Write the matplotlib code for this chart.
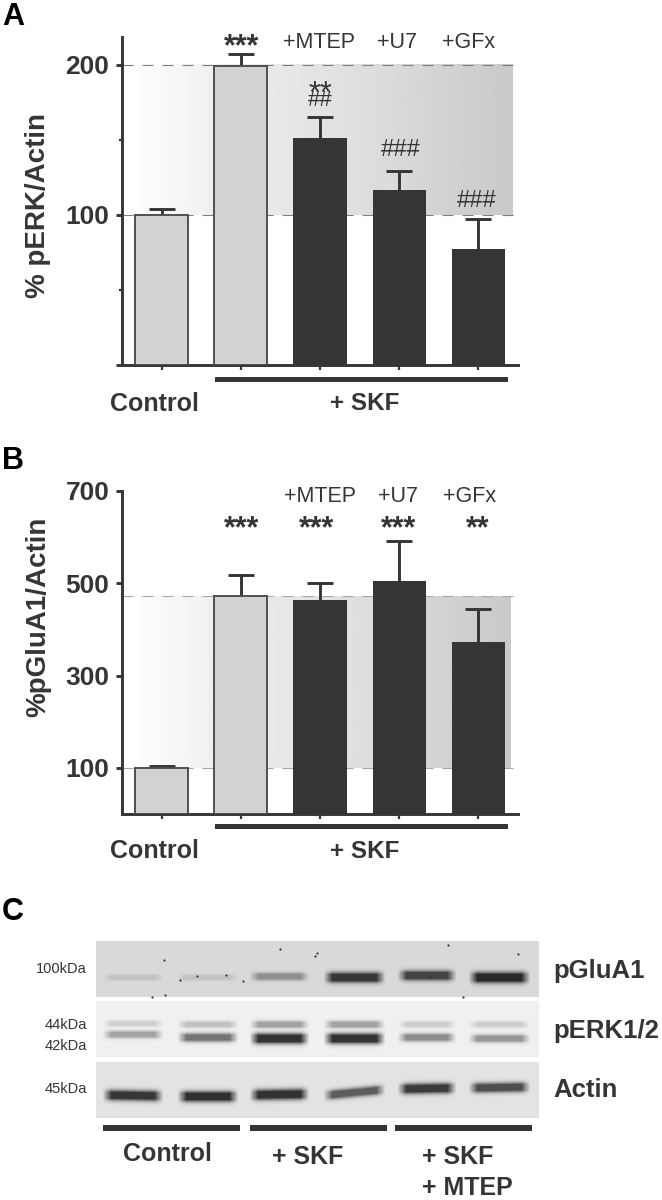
import numpy as np
import matplotlib
matplotlib.use('Agg')
import matplotlib.pyplot as plt
from matplotlib.patches import Rectangle

plt.rcParams['font.family'] = ['Liberation Sans', 'DejaVu Sans']

W, H = 662, 1200
DARK = '#353535'
LIGHT = '#d2d2d2'

groups = ['Control', 'SKF', 'MTEP', 'U7', 'GFx']
perk_values = [100, 199.5, 151, 116.5, 77.5]
perk_tops = [104, 207, 165.5, 129.5, 97.5]
glua_values = [100, 471.5, 463, 506, 372]
glua_tops = [104, 517, 500.5, 592, 445]
bar_colors = [LIGHT, LIGHT, DARK, DARK, DARK]
edge_colors = ['#505050', '#505050', 'none', 'none', 'none']
shade_levels = [0.0, 0.03, 0.06, 0.08, 0.10, 0.12, 0.14, 0.165, 0.19, 0.21]

blot_lanes = [(102, 163), (177, 238), (249, 309), (323, 385), (397, 456), (468, 530)]
glua_band_y = [977, 977, 976, 977, 975, 977]
glua_band_i = [0.13, 0.13, 0.42, 0.92, 0.85, 1.0]
erk44_band_y = [1023, 1024, 1024, 1024, 1024, 1024]
erk44_band_i = [0.16, 0.24, 0.38, 0.38, 0.17, 0.17]
erk42_band_y = [1034, 1037, 1038, 1038, 1037, 1038]
erk42_band_i = [0.38, 0.62, 0.95, 0.95, 0.5, 0.45]
actin_band_y = [1095, 1096, 1094, 1092, 1088, 1087]
actin_band_i = [0.92, 0.96, 0.95, 0.72, 0.9, 0.8]
actin_band_tilt = [1, 0, -1, -6, -1, -1]
specks_x = [164, 165, 315, 448, 518, 152, 243, 180, 197, 226, 280, 317, 463, 430]
specks_y = [960, 995, 956, 945, 954, 997, 981, 980, 976, 975, 949, 953, 997, 977]

fig = plt.figure(figsize=(W / 100, H / 100), dpi=100, facecolor='white')


def make_axes(left, right, top, bottom):
    return fig.add_axes([left / W, 1 - bottom / H, (right - left) / W, (bottom - top) / H])


def panel(ax, values, tops, ymax, majors, minors, lo, hi, shade_right, dash):
    x = np.arange(len(groups))
    grad = np.interp(np.linspace(0, 1, 300), np.linspace(0, 1, len(shade_levels)), shade_levels)
    ax.imshow((1 - grad)[None, :], cmap='gray', vmin=0, vmax=1, aspect='auto',
              extent=(-0.42, shade_right, lo, hi), zorder=0, interpolation='bilinear')
    ax.set_xlim(-0.5, 4.5)
    ax.set_ylim(0, ymax)
    for lev in (lo, hi):
        ax.axhline(lev, color=dash, lw=0.8, ls=(0, (10, 8)), zorder=1)
    ax.bar(x, values, width=0.67, color=bar_colors, edgecolor=edge_colors, linewidth=1.4, zorder=3)
    eb = ax.errorbar(x, values, yerr=[np.zeros(len(values)), np.subtract(tops, values)], fmt='none',
                     ecolor=DARK, elinewidth=2.1, capsize=9.2, capthick=2.1, zorder=2)
    eb[1][0].set_visible(False)
    for s in ('top', 'right'):
        ax.spines[s].set_visible(False)
    for s in ('left', 'bottom'):
        ax.spines[s].set_linewidth(2.1)
        ax.spines[s].set_color(DARK)
    ax.set_xticks(x, [''] * len(x))
    ax.tick_params(axis='x', length=3.5, width=1.6, color=DARK)
    ax.set_yticks(majors)
    ax.set_yticks(minors, minor=True)
    ax.tick_params(axis='y', which='major', length=4, width=2.1, color=DARK, pad=5,
                   labelsize=19, labelcolor=DARK)
    ax.tick_params(axis='y', which='minor', length=2.5, width=1.6, color=DARK)
    for lab in ax.get_yticklabels():
        lab.set_fontweight('bold')
    ax.patch.set_alpha(0)


ax_a = make_axes(122, 518, 37, 365)
panel(ax_a, perk_values, perk_tops, 218.5, [0, 100, 200], [50, 150], 100, 200, 4.43, '#808080')
ax_a.set_yticklabels(['', '100', '200'])

ax_b = make_axes(122, 518, 491, 814)
panel(ax_b, glua_values, glua_tops, 700, [100, 300, 500, 700], [], 100, 471.5, 4.41, '#a8a8a8')

ov = fig.add_axes([0, 0, 1, 1], zorder=5)
ov.set_xlim(0, W)
ov.set_ylim(H, 0)
ov.axis('off')


def T(x, y, s, size, weight='normal', color=DARK, ha='center', va='center', **kw):
    ov.text(x, y, s, fontsize=size, fontweight=weight, color=color, ha=ha, va=va, **kw)


def R(x0, x1, y0, y1):
    ov.add_patch(Rectangle((x0, y0), x1 - x0, y1 - y0, color=DARK, lw=0))


# panel letters
T(2, 17, 'A', 22, 'bold', 'black', ha='left')
T(2, 461, 'B', 22, 'bold', 'black', ha='left')
T(2, 912, 'C', 22, 'bold', 'black', ha='left')

# panel A texts
T(38, 205, '% pERK/Actin', 20, 'bold', rotation=90)
T(154, 404, 'Control', 18, 'bold')
T(365, 403, '+ SKF', 17.5, 'bold')
R(215, 508, 377, 382)
T(319, 42, '+MTEP', 15.5)
T(397, 42, '+U7', 15.5)
T(469, 42, '+GFx', 15.5)
T(242, 47, '***', 22, 'bold')
T(320, 95, '**', 22)
T(320, 100, '##', 16)
T(401, 150, '###', 17)
T(477, 201, '###', 17)

# panel B texts
T(38, 617, '%pGluA1/Actin', 20, 'bold', rotation=90)
T(154, 851, 'Control', 18, 'bold')
T(365, 851, '+ SKF', 17.5, 'bold')
R(215, 508, 824, 829)
T(320, 496, '+MTEP', 15.5)
T(398, 496, '+U7', 15.5)
T(470, 496, '+GFx', 15.5)
T(242, 529, '***', 22, 'bold')
T(317, 529, '***', 22, 'bold')
T(399, 529, '***', 22, 'bold')
T(478, 529, '**', 22, 'bold')


# panel C blots
def blot(y0, y1, bg, bands):
    xs = np.arange(96, 539)
    ys = np.arange(y0, y1)
    img = np.full((len(ys), len(xs)), bg, dtype=float)
    dark = np.zeros_like(img)
    for yc_list, i_list, tilt in bands:
        for (a, b), yc, i, t in zip(blot_lanes, yc_list, i_list, tilt):
            horiz = np.clip((xs - a) / 9, 0, 1) * np.clip((b - xs) / 9, 0, 1)
            centre = yc + t * (xs - (a + b) / 2) / (b - a)
            sig = 2.4 + 2.6 * i
            vert = np.exp(-((ys[:, None] - centre[None, :]) / sig) ** 2)
            dark = np.maximum(dark, i * np.clip(1.5 * vert, 0, 1) * horiz[None, :])
    img = img * (1 - dark) + 0.16 * dark
    ov.imshow(img, cmap='gray', vmin=0, vmax=1, aspect='auto',
              extent=(96, 539, y1, y0), interpolation='bilinear', zorder=1)


no_tilt = [0] * 6
blot(941, 997, 0.85, [(glua_band_y, glua_band_i, no_tilt)])
blot(1001, 1057, 0.94, [(erk44_band_y, erk44_band_i, no_tilt), (erk42_band_y, erk42_band_i, no_tilt)])
blot(1062, 1118, 0.89, [(actin_band_y, actin_band_i, actin_band_tilt)])
ov.scatter(specks_x, specks_y, s=2.5, color='#333333', lw=0, zorder=2)
ov.set_xlim(0, W)
ov.set_ylim(H, 0)

for y, s in [(969, '100kDa'), (1025, '44kDa'), (1046, '42kDa'), (1089, '45kDa')]:
    ov.text(87, y, s, fontsize=10.5, color=DARK, ha='right', va='center')
T(553, 971, 'pGluA1', 18.5, 'bold', ha='left')
T(553, 1031, 'pERK1/2', 18.5, 'bold', ha='left')
T(553, 1090, 'Actin', 18.5, 'bold', ha='left')
for a, b in [(103, 240), (250, 387), (395, 532)]:
    R(a, b, 1125, 1131)
T(167, 1154, 'Control', 18, 'bold')
T(308, 1157, '+ SKF', 18, 'bold')
T(422, 1157, '+ SKF', 18, 'bold', ha='left')
T(422, 1188, '+ MTEP', 18, 'bold', ha='left')

fig.savefig('out.png', dpi=100)
